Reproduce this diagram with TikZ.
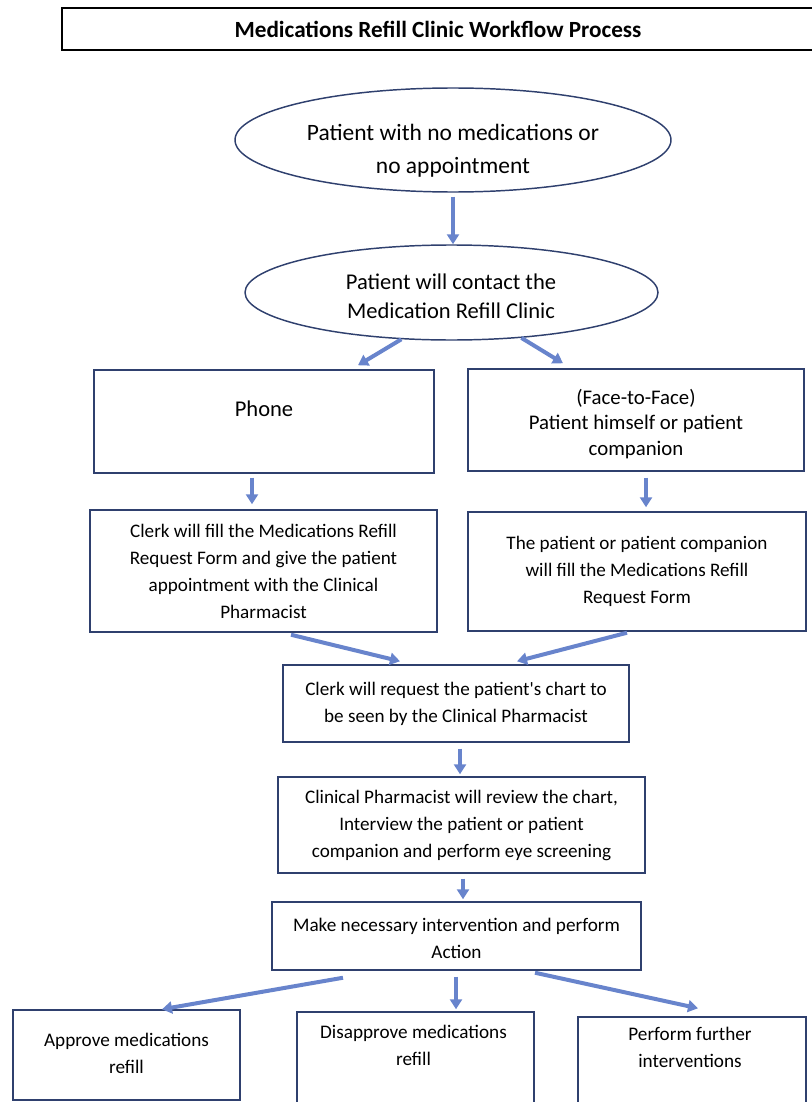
\documentclass[tikz,border=0pt]{standalone}
\usepackage{fontspec}
\setmainfont{Carlito}
\usetikzlibrary{
    arrows.meta,
    shapes.geometric,
    calc
}
\definecolor{framenavy}{RGB}{47,64,110}
\definecolor{flowblue}{RGB}{104,132,204}
\newdimen\pxu \pxu=0.75pt

\begin{document}
\begin{tikzpicture}[
      x=0.75pt, y=-0.75pt,
      oval/.style={draw=framenavy, ellipse, line width=1.1pt, inner sep=0pt},
      box/.style={draw=framenavy, rectangle, line width=1.1pt, align=center, inner sep=0pt, font=\fontsize{14.35}{20.25}\selectfont},
      bigtxt/.style={align=center, inner sep=0pt, font=\fontsize{17.6}{24.75}\selectfont},
      midtxt/.style={align=center, inner sep=0pt, font=\fontsize{16.9}{21.75}\selectfont},
      facetxt/.style={align=center, inner sep=0pt, font=\fontsize{15.6}{19.1}\selectfont},
      endtxt/.style={align=center, inner sep=0pt, font=\fontsize{14.4}{20.25}\selectfont},
      flow/.style={draw=flowblue, line width=3pt, -{Triangle[length=7.5pt, width=9pt]}}]
    \useasboundingbox (0,0) rectangle (811,1102);
    \node[draw=black, line width=0.9pt, minimum width=752\pxu, minimum height=42\pxu, inner sep=0pt,
          font=\bfseries\fontsize{17.4}{20}\selectfont] (title) at (438,29) {Medications Refill Clinic Workflow Process};
    \node[oval, minimum width=436\pxu, minimum height=104\pxu] (start) at (453,140) {};
    \node[bigtxt] (starttxt) at (453,150.5) {Patient with no medications or\\no appointment};
    \node[oval, minimum width=413\pxu, minimum height=95\pxu] (contact) at (451.5,292.5) {};
    \node[midtxt] (contacttxt) at (451,296.5) {Patient will contact the\\Medication Refill Clinic};
    \node[box, minimum width=340\pxu, minimum height=103\pxu] (phone) at (264,421.5) {};
    \node[midtxt] (phonetxt) at (264,409) {Phone};
    \node[box, minimum width=336\pxu, minimum height=102\pxu] (face) at (636,420) {};
    \node[facetxt] (facetext) at (636,424) {(Face-to-Face)\\Patient himself or patient\\companion};
    \node[box, minimum width=347\pxu, minimum height=122\pxu] (clerk) at (263.5,571)
          {Clerk will fill the Medications Refill\\Request Form and give the patient\\appointment with the Clinical\\Pharmacist};
    \node[box, minimum width=338\pxu, minimum height=119\pxu] (selffill) at (637,571.5)
          {The patient or patient companion\\will fill the Medications Refill\\Request Form};
    \node[box, minimum width=346\pxu, minimum height=77\pxu] (chart) at (456,703.5)
          {Clerk will request the patient\textquotesingle s chart to\\be seen by the Clinical Pharmacist};
    \node[box, minimum width=367\pxu, minimum height=96\pxu] (review) at (461.5,825)
          {Clinical Pharmacist will review the chart,\\Interview the patient or patient\\companion and perform eye screening};
    \node[box, minimum width=369\pxu, minimum height=68\pxu] (action) at (456.5,936) {};
    \node[endtxt] (actiontxt) at (456.5,938) {Make necessary intervention and perform\\Action};
    \node[box, minimum width=227\pxu, minimum height=90\pxu] (approve) at (126.5,1055) {};
    \node[endtxt] (approvetxt) at (126.5,1053.5) {Approve medications\\refill};
    \node[box, minimum width=237\pxu, minimum height=92\pxu] (disapprove) at (415.5,1058) {};
    \node[endtxt] (disapprovetxt) at (413.5,1045) {Disapprove medications\\refill};
    \node[box, minimum width=228\pxu, minimum height=87\pxu] (perform) at (692,1060.5) {};
    \node[endtxt] (performtxt) at (690,1047.5) {Perform further\\interventions};
    \draw[flow] ($(start.south)+(0,4)$) -- (start.south |- contact.north);
    \draw[flow] (contact.223) -- ($(phone.north)+(94,-4)$);
    \draw[flow] (contact.327) -- ($(face.north)+(-73,-5)$);
    \draw[flow] ($(phone.south)+(-12,4)$) -- ($(clerk.north)+(-11.5,-5)$);
    \draw[flow] ($(face.south)+(10,6)$) -- ($(selffill.north)+(9,-4)$);
    \draw[flow] ($(clerk.south)+(27.5,2)$) -- ($(chart.north)+(-56,-3)$);
    \draw[flow] ($(selffill.south)+(-10,1)$) -- ($(chart.north)+(61,-3)$);
    \draw[flow] ($(chart.south)+(4,6)$) -- ($(review.north)+(-1.5,-2)$);
    \draw[flow] ($(review.south)+(1.5,5)$) -- ($(action.north)+(6.5,-2)$);
    \draw[flow] ($(action.south)+(-113.5,7)$) -- ($(approve.north)+(35.5,0)$);
    \draw[flow] ($(action.south)+(-0.5,6)$) -- ($(disapprove.north)+(40.5,-2)$);
    \draw[flow] ($(action.south)+(78.5,2)$) -- ($(perform.north)+(6,-8)$);
  \end{tikzpicture}
\end{document}
